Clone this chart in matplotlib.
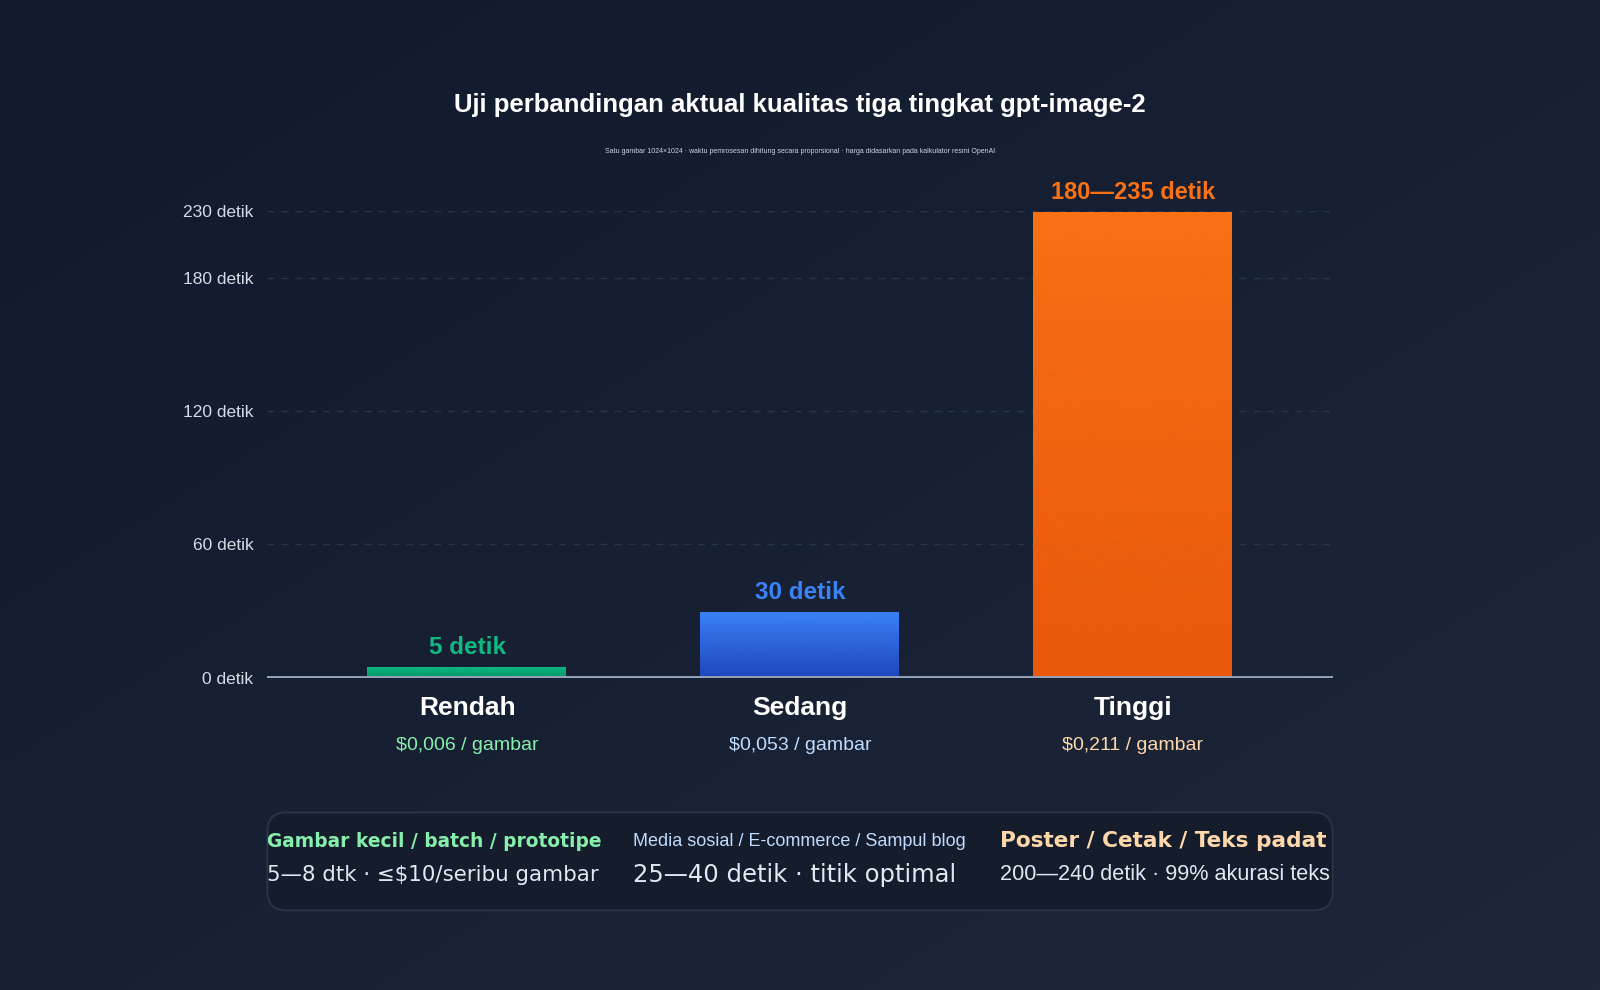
import numpy as np
import matplotlib
matplotlib.use("Agg")
import matplotlib.pyplot as plt
import matplotlib.transforms as mtransforms
from matplotlib.colors import LinearSegmentedColormap, to_rgb
from matplotlib.patches import FancyBboxPatch

# ---------------- data ----------------
categories = ["Rendah", "Sedang", "Tinggi"]
seconds = [5, 30, 230]
value_labels = ["5 detik", "30 detik", "180—235 detik"]
prices = ["$0,006 / gambar", "$0,053 / gambar", "$0,211 / gambar"]
yticks = [0, 60, 120, 180, 230]
ytick_labels = [f"{v} detik" for v in yticks]
use_titles = ["Gambar kecil / batch / prototipe",
              "Media sosial / E-commerce / Sampul blog",
              "Poster / Cetak / Teks padat"]
use_notes = ["5—8 dtk · ≤$10/seribu gambar",
             "25—40 detik · titik optimal",
             "200—240 detik · 99% akurasi teks"]
title = "Uji perbandingan aktual kualitas tiga tingkat gpt-image-2"
subtitle = ("Satu gambar 1024×1024 · waktu pemrosesan dihitung secara proporsional · "
            "harga didasarkan pada kalkulator resmi OpenAI")

# ---------------- style ----------------
bar_top = ["#10b981", "#3b82f6", "#f97316"]
bar_bot = ["#059669", "#2046c0", "#ea580c"]
label_col = ["#10b981", "#3b82f6", "#f97316"]
price_col = ["#86efac", "#bfdbfe", "#fed7aa"]
use_col = ["#86efac", "#bfdbfe", "#fed7aa"]
SANS = ["Liberation Sans", "DejaVu Sans"]
WIDE = ["DejaVu Sans"]

plt.rcParams["font.family"] = SANS

W, H = 16.0, 9.9
fig = plt.figure(figsize=(W, H), dpi=100)

# background gradient
bg = fig.add_axes([0, 0, 1, 1], zorder=-10)
bg.set_axis_off()
yy, xx = np.mgrid[0:1:200j, 0:1:200j]
t = (xx * 0.5 + yy * 0.5)
c0 = np.array(to_rgb("#111a2d"))
c1 = np.array(to_rgb("#1e2639"))
img = c0[None, None, :] * (1 - t[..., None]) + c1[None, None, :] * t[..., None]
bg.imshow(img, extent=[0, 1, 0, 1], aspect="auto", origin="upper")
bg.set_xlim(0, 1); bg.set_ylim(0, 1)

# main axes
L, R = 0.1671, 0.8329
B, T = 0.3155, 0.7866
ax = fig.add_axes([L, B, R - L, T - B])
ax.set_facecolor("none")

def fwd(y):
    y = np.asarray(y, dtype=float)
    return np.where(y <= 180, y, 180 + (y - 180) * 0.6)

def inv(t):
    t = np.asarray(t, dtype=float)
    return np.where(t <= 180, t, 180 + (t - 180) / 0.6)

ax.set_yscale("function", functions=(fwd, inv))
ax.set_ylim(0, 230)
ax.set_xlim(-0.6, 2.6)
x = np.arange(len(categories))

bars = ax.bar(x, seconds, width=0.6, color="none", edgecolor="none", zorder=3)
for i, b in enumerate(bars):
    cmap = LinearSegmentedColormap.from_list(f"g{i}", [bar_bot[i], bar_top[i]])
    grad = np.linspace(0, 1, 256).reshape(-1, 1)
    x0 = b.get_x(); w = b.get_width(); h = b.get_height()
    im = ax.imshow(grad, cmap=cmap, extent=[x0, x0 + w, 0, h], origin="lower",
                   aspect="auto", zorder=3, interpolation="bicubic")
    im.set_clip_path(b)
    ax.annotate(value_labels[i], (x[i], seconds[i]), xytext=(0, 13.5),
                textcoords="offset points", ha="center", va="center",
                fontsize=17.5 if i < 2 else 17, fontweight="bold", color=label_col[i],
                annotation_clip=False, zorder=5)
ax.set_xlim(-0.6, 2.6)
ax.set_ylim(0, 230)

ax.set_yticks(yticks)
ax.set_yticklabels(ytick_labels)
ax.tick_params(axis="y", length=0, pad=10, labelsize=12.5, labelcolor="#d5dbe4")
ax.set_xticks([])
for s in ax.spines.values():
    s.set_visible(False)
for v in yticks[1:]:
    ax.axhline(v, color="#2b3548", lw=1.0, ls=(0, (5, 5)), zorder=1)
ax.axhline(0, color="#94a3b8", lw=2.8, zorder=4)

# category + price labels
btr = mtransforms.blended_transform_factory(ax.transData, fig.transFigure)
for i, c in enumerate(categories):
    ax.text(x[i], 0.2845, c, transform=btr, ha="center", va="center",
            fontsize=19, fontweight="bold", color="#ffffff")
    ax.text(x[i], 0.2474, prices[i], transform=btr, ha="center", va="center",
            fontsize=14, color=price_col[i])

# title & subtitle
fig.text(0.5, 0.8938, title, ha="center", va="center", fontsize=18.5,
         fontweight="bold", color="#ffffff")
fig.text(0.5, 0.8474, subtitle, ha="center", va="center", fontsize=5,
         color="#cbd5e1")

# card
card = FancyBboxPatch((L, 0.0804), R - L, 0.099,
                      boxstyle="round,pad=0,rounding_size=0.012",
                      mutation_aspect=W / H,
                      transform=fig.transFigure, facecolor="#151c2c",
                      edgecolor="#2b3548", lw=1.3, zorder=1)
fig.patches.append(card)

colx = [0.1671, 0.3954, 0.625]
title_fonts = [dict(family=WIDE, fontweight="bold", fontsize=13.4),
               dict(family=SANS, fontweight="normal", fontsize=13),
               dict(family=WIDE, fontweight="bold", fontsize=15.6)]
note_fonts = [dict(family=WIDE, fontsize=15.4),
              dict(family=WIDE, fontsize=17.5),
              dict(family=SANS, fontsize=15.6)]
for i in range(3):
    fig.text(colx[i], 0.1505, use_titles[i], ha="left", va="center",
             color=use_col[i], zorder=3, **title_fonts[i])
    fig.text(colx[i], 0.1165, use_notes[i], ha="left", va="center",
             color="#e2e8f0", zorder=3, **note_fonts[i])

fig.savefig("out.png", dpi=100, facecolor="#151d2f")
